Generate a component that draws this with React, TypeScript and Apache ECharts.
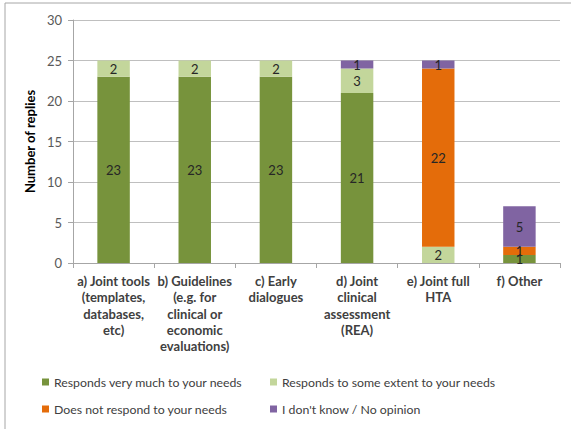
import React, { useEffect, useRef } from "react";
import * as echarts from "echarts";

const categories = [
  "a) Joint tools\n(templates,\ndatabases,\netc)",
  "b) Guidelines\n(e.g. for\nclinical or\neconomic\nevaluations)",
  "c) Early\ndialogues",
  "d) Joint\nclinical\nassessment\n(REA)",
  "e) Joint full\nHTA",
  "f) Other",
];
const seriesNames = [
  "Responds very much to your needs",
  "Responds to some extent to your needs",
  "Does not respond to your needs",
  "I don't know / No opinion",
];
const veryMuch = [23, 23, 23, 21, 0, 1];
const someExtent = [2, 2, 2, 3, 2, 0];
const notRespond = [0, 0, 0, 0, 22, 1];
const noOpinion = [0, 0, 0, 1, 1, 5];
const colors = ["#77933C", "#C3D69B", "#E46C0A", "#8064A2"];
const yTicks = { min: 0, max: 30, interval: 5 };

const FONT = "Lato";

export default function App() {
  const ref = useRef<HTMLDivElement>(null);
  useEffect(() => {
    if (!ref.current) return;
    const chart = echarts.init(ref.current, null, { renderer: "svg" });
    const values = [veryMuch, someExtent, notRespond, noOpinion];
    const legendPos = [
      { left: 42, top: 376 },
      { left: 270, top: 376 },
      { left: 42, top: 403 },
      { left: 270, top: 403 },
    ];
    chart.setOption({
      animation: false,
      textStyle: { fontFamily: FONT },
      graphic: [
        {
          type: "rect",
          shape: { x: 5, y: 3, width: 700, height: 600 },
          style: { fill: "none", stroke: "#A6A6A6", lineWidth: 1 },
          silent: true,
        },
      ],
      grid: { left: 73, right: 11, top: 20, bottom: 166 },
      legend: seriesNames.map((n, i) => ({
        data: [n],
        left: legendPos[i].left,
        top: legendPos[i].top,
        icon: "rect",
        itemWidth: 7,
        itemHeight: 7,
        itemGap: 5,
        padding: 0,
        selectedMode: false,
        textStyle: { fontFamily: FONT, fontSize: 12.3, color: "#404040" },
      })),
      xAxis: {
        type: "category",
        data: categories,
        axisLine: { lineStyle: { color: "#A6A6A6" } },
        axisTick: { show: true, length: 5, lineStyle: { color: "#A6A6A6" } },
        axisLabel: {
          interval: 0,
          margin: 10,
          fontFamily: FONT,
          fontSize: 13,
          fontWeight: "bold",
          color: "#404040",
          lineHeight: 16.3,
        },
      },
      yAxis: {
        type: "value",
        min: yTicks.min,
        max: yTicks.max,
        interval: yTicks.interval,
        name: "Number of replies",
        nameLocation: "middle",
        nameGap: 37,
        nameTextStyle: {
          fontFamily: FONT,
          fontSize: 13,
          fontWeight: "bold",
          color: "#000000",
        },
        axisLine: { show: true, lineStyle: { color: "#A6A6A6" } },
        axisTick: { show: true, length: 5, lineStyle: { color: "#A6A6A6" } },
        axisLabel: { margin: 11, fontFamily: FONT, fontSize: 13, color: "#595959" },
        splitLine: { lineStyle: { color: "#BFBFBF" } },
      },
      series: seriesNames.map((n, i) => ({
        name: n,
        type: "bar",
        stack: "total",
        barWidth: "40%",
        data: values[i],
        itemStyle: { color: colors[i] },
        label: {
          show: true,
          position: "inside",
          fontFamily: FONT,
          fontSize: 13,
          color: "#262626",
          formatter: (p: any) => (p.value ? String(p.value) : ""),
        },
      })),
    });
    return () => chart.dispose();
  }, []);
  return (
    <div
      ref={ref}
      style={{ position: "fixed", left: 0, top: 0, width: 571, height: 429, background: "#fff" }}
    />
  );
}
